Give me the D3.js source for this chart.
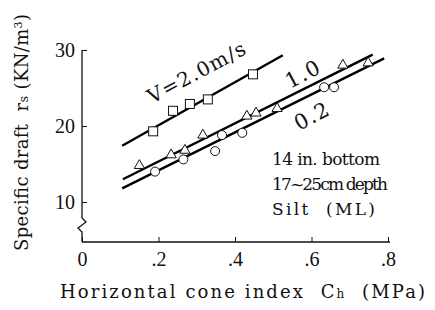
<!DOCTYPE html>
<html>
<head>
<meta charset="utf-8">
<script src="https://cdn.jsdelivr.net/npm/d3@7"></script>
<style>
  body { margin: 0; background: #fff; }
  svg { display: block; }
  text { font-family: "Liberation Serif", "DejaVu Serif", serif; fill: #111; white-space: pre; }
  text.wide { font-family: "DejaVu Serif", "Liberation Serif", serif; }
</style>
</head>
<body>
<div id="chart"></div>
<script>
// Ch (MPa) vs specific draft (KN/m3)
const xTicks = [0, 0.2, 0.4, 0.6, 0.8];
const yTicks = [10, 20, 30];

const squares2 = [[0.186, 19.3], [0.238, 22.0], [0.282, 22.9], [0.329, 23.5], [0.447, 26.8]];
const triangles1 = [[0.150, 14.8], [0.233, 16.2], [0.269, 16.8], [0.316, 18.8], [0.431, 21.3],
                    [0.455, 21.7], [0.510, 22.3], [0.682, 28.0], [0.748, 28.3]];
const circles02 = [[0.191, 14.0], [0.265, 15.6], [0.348, 16.7], [0.366, 18.8], [0.419, 19.1],
                   [0.633, 25.1], [0.659, 25.1]];

const fit2 = [[0.105, 17.4], [0.525, 29.3]];
const fit1 = [[0.107, 13.0], [0.76, 29.4]];
const fit02 = [[0.105, 11.8], [0.79, 28.9]];

const W = 435, H = 310;
const svg = d3.select("#chart").append("svg")
    .attr("width", W)
    .attr("height", H);

const xScale = d3.scaleLinear().domain([0, 0.8]).range([82, 388]);
const yScale = d3.scaleLinear().domain([10, 30]).range([202, 50]);
const yBottom = 242;

// x axis, ticks pointing up
const xAxis = d3.axisBottom(xScale)
    .tickValues(xTicks)
    .tickSizeInner(-5)
    .tickSizeOuter(0)
    .tickPadding(10)
    .tickFormat(d => d === 0 ? "0" : d3.format(".1f")(d).replace(/^0/, ""));

const gx = svg.append("g")
    .attr("transform", `translate(0,${yBottom})`)
    .call(xAxis);
gx.select(".domain").remove();
gx.selectAll("line").attr("stroke", "#111").attr("stroke-width", 1);
gx.selectAll("text").attr("font-size", 20).attr("dy", "0.72em");

svg.append("line")
    .attr("x1", xScale(0)).attr("x2", xScale(0.8) + 2)
    .attr("y1", yBottom).attr("y2", yBottom)
    .attr("stroke", "#111").attr("stroke-width", 1.3);

// y axis, ticks pointing right
const yAxis = d3.axisLeft(yScale)
    .tickValues(yTicks)
    .tickSizeInner(-5)
    .tickSizeOuter(0)
    .tickPadding(7);

const gy = svg.append("g")
    .attr("transform", `translate(${xScale(0)},0)`)
    .call(yAxis);
gy.select(".domain").remove();
gy.selectAll("line").attr("stroke", "#111").attr("stroke-width", 1);
gy.selectAll("text").attr("font-size", 20);

// y axis line with the break mark
const x0 = xScale(0);
svg.append("path")
    .attr("d", `M${x0},${yScale(30)} L${x0},218 L${x0 + 4},222 L${x0 - 4},228 L${x0},232 L${x0},${yBottom}`)
    .attr("fill", "none")
    .attr("stroke", "#111")
    .attr("stroke-width", 1.3);

// fitted lines
const line = d3.line().x(d => xScale(d[0])).y(d => yScale(d[1]));
[fit2, fit1, fit02].forEach(f => {
    svg.append("path")
        .attr("d", line(f))
        .attr("fill", "none")
        .attr("stroke", "#000")
        .attr("stroke-width", 2.4);
});

// markers
svg.selectAll("rect.sq")
    .data(squares2)
    .join("rect")
    .attr("class", "sq")
    .attr("x", d => xScale(d[0]) - 4.5)
    .attr("y", d => yScale(d[1]) - 4.5)
    .attr("width", 9)
    .attr("height", 9)
    .attr("fill", "#fff")
    .attr("stroke", "#111")
    .attr("stroke-width", 1);

const tri = d3.symbol().type(d3.symbolTriangle).size(45);
svg.selectAll("path.tri")
    .data(triangles1)
    .join("path")
    .attr("class", "tri")
    .attr("d", tri)
    .attr("transform", d => `translate(${xScale(d[0])},${yScale(d[1])})`)
    .attr("fill", "#fff")
    .attr("stroke", "#111")
    .attr("stroke-width", 1);

svg.selectAll("circle.ci")
    .data(circles02)
    .join("circle")
    .attr("class", "ci")
    .attr("cx", d => xScale(d[0]))
    .attr("cy", d => yScale(d[1]))
    .attr("r", 4.5)
    .attr("fill", "#fff")
    .attr("stroke", "#111")
    .attr("stroke-width", 1);

// line labels
svg.append("text")
    .attr("class", "wide")
    .attr("transform", `translate(152,104) rotate(-28)`)
    .attr("font-size", 20)
    .attr("textLength", 108)
    .attr("lengthAdjust", "spacing")
    .text("V=2.0m/s");

svg.append("text")
    .attr("class", "wide")
    .attr("transform", `translate(290,89) rotate(-28)`)
    .attr("font-size", 21)
    .attr("textLength", 36)
    .attr("lengthAdjust", "spacing")
    .text("1.0");

svg.append("text")
    .attr("class", "wide")
    .attr("transform", `translate(299,131) rotate(-28)`)
    .attr("font-size", 21)
    .attr("textLength", 36)
    .attr("lengthAdjust", "spacing")
    .text("0.2");

// condition notes
const notes = ["14 in. bottom", "17~25cm depth", "Silt  (ML)"];
const noteLen = [108, 116, 103];
svg.selectAll("text.note")
    .data(notes)
    .join("text")
    .attr("class", "note wide")
    .attr("x", 272)
    .attr("y", (d, i) => 165 + i * 25)
    .attr("font-size", 17)
    .attr("textLength", (d, i) => noteLen[i])
    .attr("lengthAdjust", "spacing")
    .text(d => d);

// axis titles
const xt = svg.append("text")
    .attr("class", "wide")
    .attr("x", 60)
    .attr("y", 298)
    .attr("font-size", 18)
    .attr("textLength", 365)
    .attr("lengthAdjust", "spacing");
xt.append("tspan").text("Horizontal cone index  C");
xt.append("tspan").attr("font-size", 12).text("h");
xt.append("tspan").text("  (MPa)");

const yt = svg.append("text")
    .attr("class", "wide")
    .attr("transform", `translate(28,251) rotate(-90)`)
    .attr("font-size", 18)
    .attr("textLength", 237)
    .attr("lengthAdjust", "spacing");
yt.append("tspan").text("Specific draft  r");
yt.append("tspan").attr("font-size", 13).text("s");
yt.append("tspan").text(" (KN/m");
yt.append("tspan").attr("font-size", 11).attr("dy", -6).text("3");
yt.append("tspan").attr("dy", 6).text(")");
</script>
</body>
</html>
